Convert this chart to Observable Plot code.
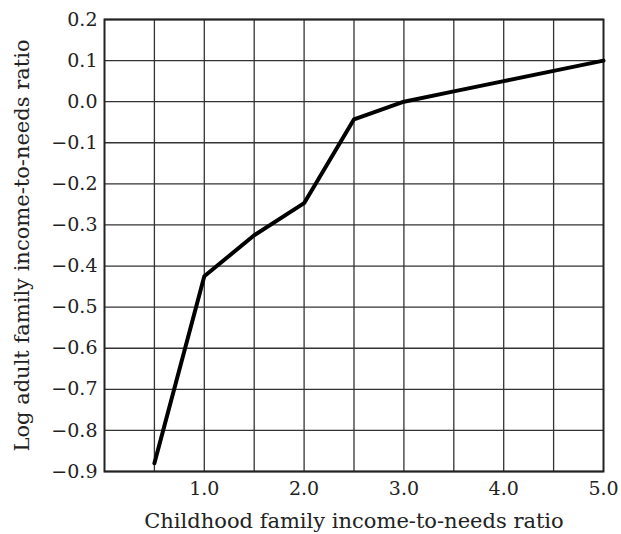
<!DOCTYPE html>
<html>
<head>
<meta charset="utf-8">
<script src="https://cdn.jsdelivr.net/npm/d3@7"></script>
<script src="https://cdn.jsdelivr.net/npm/@observablehq/plot@0.6"></script>
<style>
  html, body { margin: 0; padding: 0; background: #fff; }
  svg { display: block; }
</style>
</head>
<body>
<div id="chart"></div>
<script>
const childRatio = [0.5, 1.0, 1.5, 2.0, 2.5, 3.0, 3.5, 4.0, 4.5, 5.0];
const logAdultRatio = [-0.88, -0.425, -0.325, -0.247, -0.043, 0.0, 0.025, 0.05, 0.075, 0.1];
const xTicks = [1.0, 2.0, 3.0, 4.0, 5.0];
const xGrid = [0.5, 1.0, 1.5, 2.0, 2.5, 3.0, 3.5, 4.0, 4.5];
const yTicks = [0.2, 0.1, 0.0, -0.1, -0.2, -0.3, -0.4, -0.5, -0.6, -0.7, -0.8, -0.9];

const data = childRatio.map((x, i) => ({x, y: logAdultRatio[i]}));

const chart = Plot.plot({
  width: 621,
  height: 534,
  marginLeft: 104,
  marginRight: 18,
  marginTop: 19,
  marginBottom: 63,
  style: {fontFamily: "'DejaVu Serif', serif", fontSize: "18px", color: "#222"},
  x: {domain: [0, 5]},
  y: {domain: [-0.9, 0.2]},
  marks: [
    Plot.gridX(xGrid, {stroke: "#333", strokeOpacity: 1, strokeWidth: 1.3}),
    Plot.gridY(yTicks, {stroke: "#333", strokeOpacity: 1, strokeWidth: 1.3}),
    Plot.axisX(xTicks, {tickSize: 0, tickPadding: 10, tickFormat: d3.format(".1f"), fontSize: 19, label: null}),
    Plot.axisY(yTicks, {tickSize: 0, tickPadding: 7, tickFormat: d3.format(".1f"), fontSize: 19, label: null}),
    Plot.text(["Childhood family income-to-needs ratio"], {frameAnchor: "bottom", dy: 56, fontSize: 21, fill: "#222", text: d => d}),
    Plot.text(["Log adult family income-to-needs ratio"], {frameAnchor: "left", textAnchor: "middle", dx: -82, rotate: -90, fontSize: 21, fill: "#222", text: d => d}),
    Plot.frame({stroke: "#222", strokeWidth: 2}),
    Plot.line(data, {x: "x", y: "y", stroke: "#000", strokeWidth: 4})
  ]
});
document.getElementById("chart").append(chart);
</script>
</body>
</html>
